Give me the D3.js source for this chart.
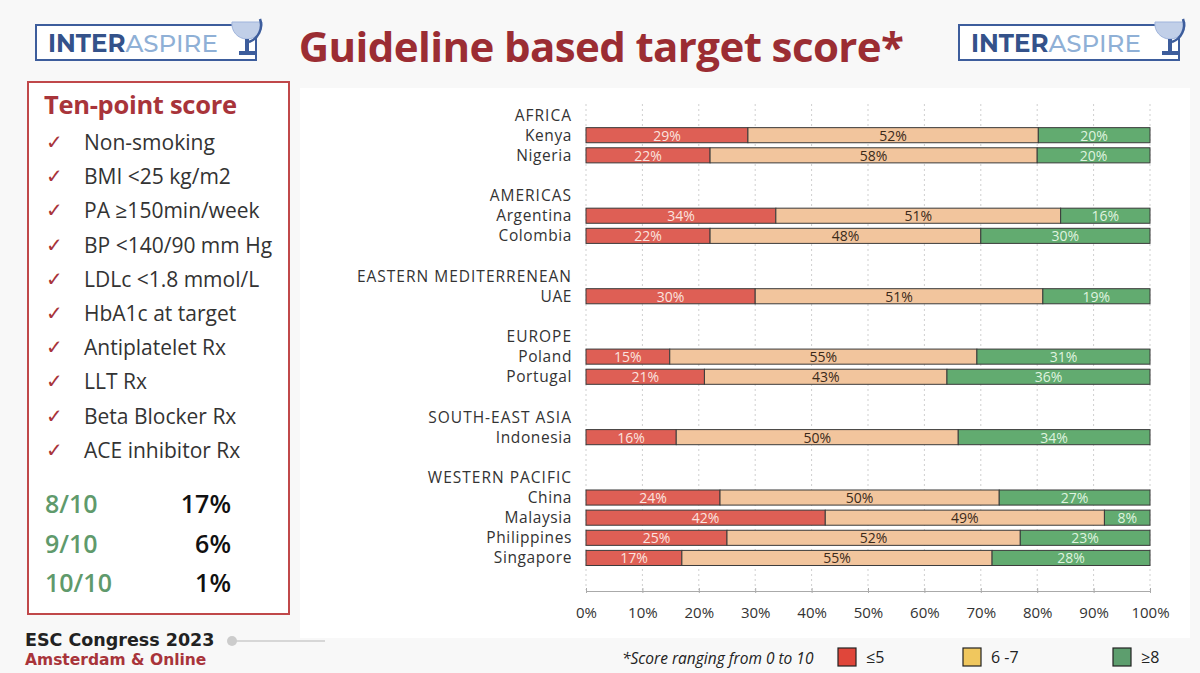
<!DOCTYPE html>
<html>
<head>
<meta charset="utf-8">
<script src="https://cdn.jsdelivr.net/npm/d3@7"></script>
<style>
  body { margin: 0; background: #f8f8f8; }
  svg { display: block; font-family: "Open Sans", sans-serif; }
</style>
</head>
<body>
<svg id="chart" width="1200" height="673"></svg>
<script>
// data
const regions = ["AFRICA", "AMERICAS", "EASTERN MEDITERRENEAN", "EUROPE", "SOUTH-EAST ASIA", "WESTERN PACIFIC"];
const countries = ["Kenya", "Nigeria", "Argentina", "Colombia", "UAE", "Poland", "Portugal", "Indonesia", "China", "Malaysia", "Philippines", "Singapore"];
const countryRegion = [0, 0, 1, 1, 2, 3, 3, 4, 5, 5, 5, 5];
const low = [29, 22, 34, 22, 30, 15, 21, 16, 24, 42, 25, 17];   // score <=5
const mid = [52, 58, 51, 48, 51, 55, 43, 50, 50, 49, 52, 55];   // score 6-7
const high = [20, 20, 16, 30, 19, 31, 36, 34, 27, 8, 23, 28];   // score >=8
const xTicks = [0, 10, 20, 30, 40, 50, 60, 70, 80, 90, 100];

const checklist = ["Non-smoking", "BMI <25 kg/m2", "PA \u2265150min/week", "BP <140/90 mm Hg", "LDLc <1.8 mmol/L",
  "HbA1c at target", "Antiplatelet Rx", "LLT Rx", "Beta Blocker Rx", "ACE inhibitor Rx"];
const scoreLabels = ["8/10", "9/10", "10/10"];
const scoreShares = ["17%", "6%", "1%"];

const legendKeys = ["\u22645", "6 -7", "\u22658"];
const colors = { low: "#de5f55", mid: "#f2c59d", high: "#62ab70" };
const legendColors = ["#e0463a", "#f0c75e", "#5d9e6e"];

const svg = d3.select("#chart");

// build row list: region header, its countries, blank spacer
const rows = [];
regions.forEach((r, ri) => {
  if (ri > 0) rows.push({ type: "blank" });
  rows.push({ type: "region", label: r });
  countries.forEach((c, ci) => {
    if (countryRegion[ci] === ri) {
      const tot = low[ci] + mid[ci] + high[ci];
      rows.push({ type: "country", label: c, low: low[ci], mid: mid[ci], high: high[ci], tot: tot });
    }
  });
});

const x = d3.scaleLinear().domain([0, 100]).range([586, 1150]);
const y = d3.scaleBand().domain(d3.range(rows.length)).range([105, 568]).paddingInner(0.25).paddingOuter(0.125);

// plot background
svg.append("rect").attr("x", 300).attr("y", 88).attr("width", 890).attr("height", 550).attr("fill", "#fff");

// gridlines
svg.append("g").selectAll("line").data(xTicks).join("line")
  .attr("x1", d => x(d)).attr("x2", d => x(d))
  .attr("y1", 104).attr("y2", 590)
  .attr("stroke", "#cfcfcf").attr("stroke-dasharray", "2,3");

// axis
const axis = svg.append("g").attr("transform", "translate(0,591)")
  .call(d3.axisBottom(x).tickValues(xTicks).tickFormat(d => d + "%").tickSize(4).tickSizeOuter(0));
axis.select(".domain").attr("stroke", "#aaa");
axis.selectAll(".tick line").attr("stroke", "#aaa").attr("y1", -3).attr("y2", 2);
axis.selectAll(".tick text").attr("y", 16).attr("font-size", 15).attr("fill", "#333")
  .attr("font-family", "Open Sans, sans-serif");

// row labels
svg.append("g").selectAll("text").data(rows.map((r, i) => ({ ...r, i })).filter(r => r.type !== "blank")).join("text")
  .attr("x", 572).attr("y", d => y(d.i) + y.bandwidth() / 2 + 5.5)
  .attr("text-anchor", "end").attr("font-size", 15.5).attr("fill", "#333")
  .attr("letter-spacing", d => d.type === "region" ? 1 : 0.6)
  .text(d => d.label);

// stacked bars
const segs = [];
rows.forEach((r, i) => {
  if (r.type !== "country") return;
  let acc = 0;
  [["low", r.low], ["mid", r.mid], ["high", r.high]].forEach(([k, v]) => {
    const p = v / r.tot * 100;
    segs.push({ i, k, v, x0: acc, x1: acc + p });
    acc += p;
  });
});

const bars = svg.append("g");
bars.selectAll("rect").data(segs).join("rect")
  .attr("x", d => x(d.x0)).attr("width", d => x(d.x1) - x(d.x0))
  .attr("y", d => y(d.i)).attr("height", y.bandwidth())
  .attr("fill", d => colors[d.k]).attr("stroke", "#3a3a3a").attr("stroke-width", 1);

const labelColor = { low: "#fbe3df", mid: "#3b2a1a", high: "#dff3df" };
bars.selectAll("text").data(segs).join("text")
  .attr("x", d => x((d.x0 + d.x1) / 2)).attr("y", d => y(d.i) + y.bandwidth() / 2 + 5.5)
  .attr("text-anchor", "middle").attr("font-size", 14).attr("fill", d => labelColor[d.k])
  .text(d => d.v + "%");

// title
svg.append("text").attr("x", 601).attr("y", 62).attr("text-anchor", "middle")
  .attr("font-size", 42).attr("font-weight", 700).attr("fill", "#9b2d33")
  .attr("letter-spacing", -0.6)
  .text("Guideline based target score*");

// logos
function logo(x0) {
  const g = svg.append("g").attr("transform", `translate(${x0},25)`);
  g.append("rect").attr("x", 0).attr("y", 0).attr("width", 220).attr("height", 35)
    .attr("fill", "#fff").attr("stroke", "#3d5d9c").attr("stroke-width", 2);
  const t = g.append("text").attr("x", 12).attr("y", 27).attr("font-size", 24.5).attr("font-family", "Montserrat, Inter, sans-serif");
  t.append("tspan").attr("font-weight", 700).attr("fill", "#34528a").text("INTER");
  t.append("tspan").attr("font-weight", 500).attr("fill", "#8fb0d6").text("ASPIRE");
  // globe cup
  g.append("path").attr("d", "M196,-3 L226,-3 A15,15 0 0 1 211,14 A15,15 0 0 1 196,-3 Z")
    .attr("fill", "#c1cfe8").attr("stroke", "#9fb4dc").attr("stroke-width", 1);
  g.append("path").attr("d", "M224,-6 A18,18 0 0 1 213,17").attr("fill", "none").attr("stroke", "#3d5d9c").attr("stroke-width", 2.5);
  g.append("rect").attr("x", 209).attr("y", 14).attr("width", 4).attr("height", 12).attr("fill", "#3d5d9c");
  g.append("rect").attr("x", 203).attr("y", 26).attr("width", 16).attr("height", 4).attr("fill", "#3d5d9c");
}
logo(36);
logo(959);

// left panel
svg.append("rect").attr("x", 28).attr("y", 82).attr("width", 261).attr("height", 532)
  .attr("fill", "#fff").attr("stroke", "#c0484a").attr("stroke-width", 2);
svg.append("text").attr("x", 44).attr("y", 114).attr("font-size", 25.5).attr("font-weight", 700)
  .attr("fill", "#a8343a").attr("letter-spacing", -0.3).text("Ten-point score");

const items = svg.append("g").selectAll("g").data(checklist).join("g")
  .attr("transform", (d, i) => `translate(0,${149 + i * 34.2})`);
items.append("text").attr("x", 46).attr("y", 0).attr("font-size", 20)
  .attr("font-family", "DejaVu Sans, sans-serif").attr("fill", "#a8343a").text("\u2713");
items.append("text").attr("x", 84).attr("y", 1).attr("font-size", 21).attr("fill", "#333").text(d => d);

const scores = svg.append("g").selectAll("g").data(scoreLabels).join("g")
  .attr("transform", (d, i) => `translate(0,${513 + i * 39.5})`);
scores.append("text").attr("x", 45).attr("y", 0).attr("font-size", 25).attr("font-weight", 600)
  .attr("fill", "#5f9a6c").text(d => d);
scores.append("text").attr("x", 231).attr("y", 0).attr("text-anchor", "end").attr("font-size", 25)
  .attr("font-weight", 600).attr("fill", "#111").text((d, i) => scoreShares[i]);

// footer
svg.append("text").attr("x", 25).attr("y", 646).attr("font-size", 17.5).attr("font-weight", 700)
  .attr("font-family", "DejaVu Sans, sans-serif").attr("fill", "#222").text("ESC Congress 2023");
svg.append("text").attr("x", 25).attr("y", 665).attr("font-size", 15.5).attr("font-weight", 700)
  .attr("font-family", "DejaVu Sans, sans-serif").attr("fill", "#a8343a").text("Amsterdam & Online");
svg.append("line").attr("x1", 231).attr("x2", 325).attr("y1", 641).attr("y2", 641).attr("stroke", "#ccc").attr("stroke-width", 1.5);
svg.append("circle").attr("cx", 232).attr("cy", 641).attr("r", 5).attr("fill", "#ccc");

// legend
svg.append("text").attr("x", 622).attr("y", 664).attr("font-size", 15.5).attr("font-style", "italic")
  .attr("fill", "#222").text("*Score ranging from 0 to 10");
const lg = svg.append("g").selectAll("g").data(legendKeys).join("g")
  .attr("transform", (d, i) => `translate(${[838, 963, 1113][i]},648)`);
lg.append("rect").attr("width", 18).attr("height", 18).attr("fill", (d, i) => legendColors[i])
  .attr("stroke", "#222").attr("stroke-width", 1.2);
lg.append("text").attr("x", 28).attr("y", 15).attr("font-size", 16).attr("fill", "#222").text(d => d);
</script>
</body>
</html>
